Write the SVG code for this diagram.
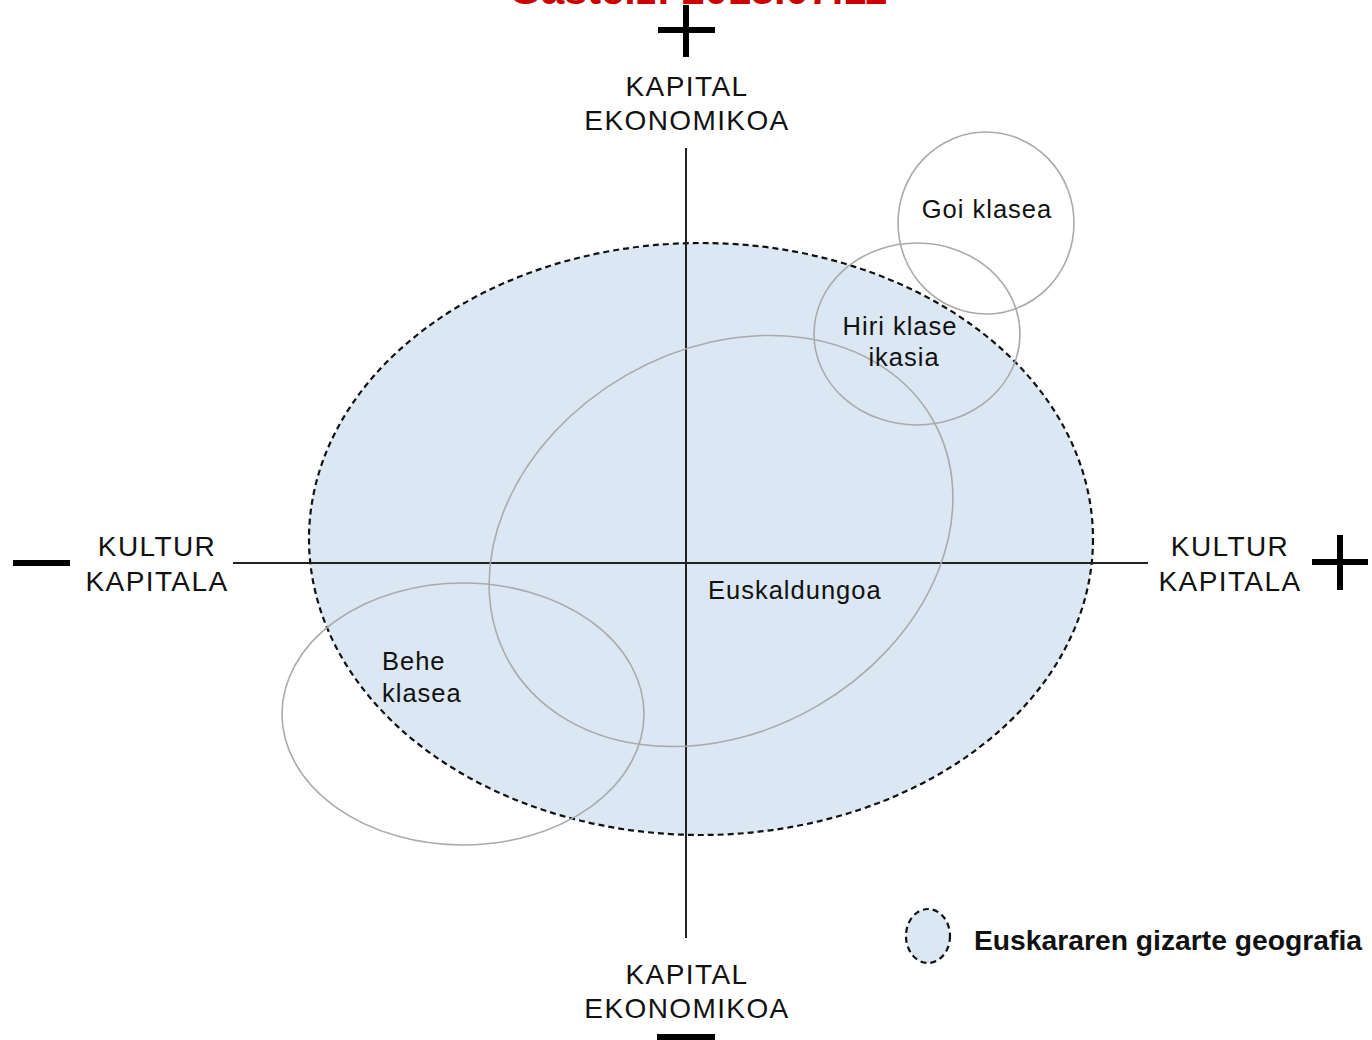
<svg xmlns="http://www.w3.org/2000/svg" width="1372" height="1040" viewBox="0 0 1372 1040">
<style>
.lbl{font-family:"Liberation Sans",Arial,sans-serif;font-size:28px;fill:#111;letter-spacing:1.4px;text-anchor:middle}
.in{font-family:"Liberation Sans",Arial,sans-serif;font-size:25.5px;fill:#111;letter-spacing:1px}
.cls{fill:none;stroke:#aaaaaa;stroke-width:1.6}
.sign{fill:#000}
.axis{stroke:#222;stroke-width:2;fill:none}
.dash{stroke:#111;stroke-width:2.2;stroke-dasharray:6,4}
</style>
<rect width="1372" height="1040" fill="#fff"/>
<text x="698" y="4" font-family="Liberation Sans,Arial,sans-serif" font-weight="bold" font-size="40" fill="#cc0000" text-anchor="middle" textLength="378" lengthAdjust="spacingAndGlyphs">Gasteiz: 2013.07.11</text>

<g id="area">
<ellipse class="dash" cx="701" cy="539" rx="392" ry="296" fill="#dce7f4"/>
</g>

<g id="connectors">
<line class="axis" x1="686" y1="148" x2="686" y2="938"/>
<line class="axis" x1="233" y1="563" x2="1148" y2="563"/>
</g>

<g id="euskaldungoa">
<ellipse class="cls" cx="721" cy="541" rx="244" ry="191" transform="rotate(-30 721 541)"/>
<text class="in" x="708" y="599">Euskaldungoa</text>
</g>
<g id="behe">
<ellipse class="cls" cx="463" cy="714" rx="181" ry="131"/>
<text class="in" x="382" y="670">Behe</text>
<text class="in" x="382" y="702">klasea</text>
</g>
<g id="hiri">
<ellipse class="cls" cx="917" cy="334" rx="103" ry="91"/>
<text class="in" x="900" y="335" text-anchor="middle">Hiri klase</text>
<text class="in" x="904" y="366" text-anchor="middle">ikasia</text>
</g>
<g id="goi">
<ellipse class="cls" cx="986" cy="223" rx="88" ry="91"/>
<text class="in" x="987" y="218" text-anchor="middle">Goi klasea</text>
</g>

<g id="top-label">
<rect class="sign" x="683" y="5" width="6" height="52"/>
<rect class="sign" x="658" y="27" width="57" height="6"/>
<text class="lbl" x="687" y="96">KAPITAL</text>
<text class="lbl" x="687" y="130">EKONOMIKOA</text>
</g>
<g id="bottom-label">
<text class="lbl" x="687" y="984">KAPITAL</text>
<text class="lbl" x="687" y="1018">EKONOMIKOA</text>
<rect class="sign" x="657" y="1034" width="58" height="6"/>
</g>
<g id="left-label">
<rect class="sign" x="13" y="560" width="57" height="6"/>
<text class="lbl" x="157" y="556">KULTUR</text>
<text class="lbl" x="157" y="591">KAPITALA</text>
</g>
<g id="right-label">
<text class="lbl" x="1230" y="556">KULTUR</text>
<text class="lbl" x="1230" y="591">KAPITALA</text>
<rect class="sign" x="1337" y="535" width="6" height="55"/>
<rect class="sign" x="1312" y="559" width="56" height="6"/>
</g>

<g id="legend">
<ellipse class="dash" cx="928" cy="936" rx="22" ry="27" fill="#dce7f4"/>
<text x="974" y="950" font-family="Liberation Sans,Arial,sans-serif" font-weight="bold" font-size="27" fill="#111" textLength="388" lengthAdjust="spacingAndGlyphs">Euskararen gizarte geografia</text>
</g>
</svg>
